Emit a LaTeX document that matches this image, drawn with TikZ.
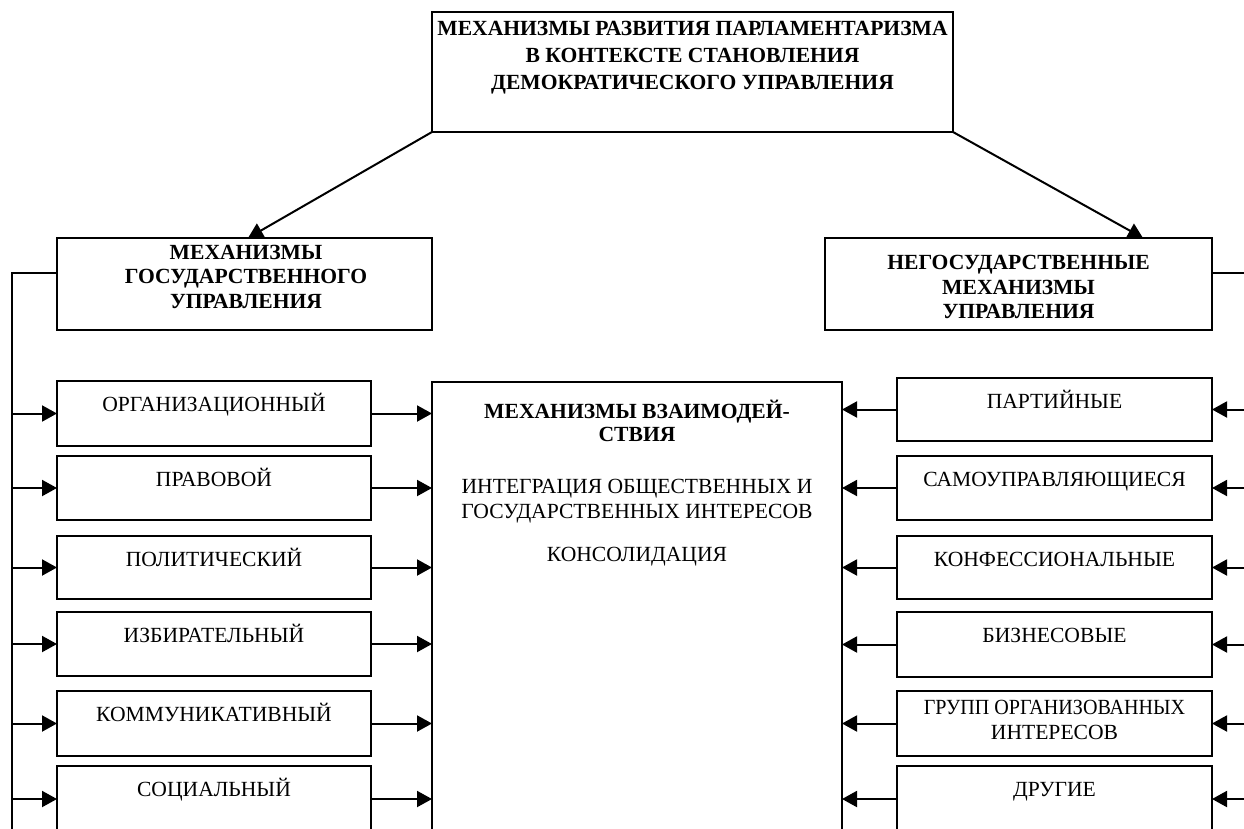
\documentclass[tikz,border=0pt]{standalone}
\usepackage{fontspec}
\usepackage{graphicx}
\setmainfont{Liberation Serif}
\usetikzlibrary{arrows.meta}
\newcommand{\mlines}[1]{\begin{tabular}[t]{@{}c@{}}#1\end{tabular}}
\begin{document}
\begin{tikzpicture}[x=1pt,y=-1pt,
  box/.style={draw, line width=2pt, inner sep=0pt, outer sep=0pt, anchor=north west},
  btxt/.style={font=\bfseries\fontsize{21.6}{24.5}\selectfont, inner sep=0pt, anchor=base},
  ntxt/.style={font=\fontsize{21.6}{25}\selectfont, inner sep=0pt, anchor=base},
  arr/.style={line width=2pt, -{Triangle[length=15pt,width=16pt]}},
  ln/.style={line width=2pt}]
\useasboundingbox (0,0) rectangle (1244,828);
\clip (0,0) rectangle (1244,828);
% main boxes
\node[box, minimum width=521pt, minimum height=120pt] (top) at (432,12) {};
\node[box, minimum width=375pt, minimum height=92pt] (lt) at (57,238) {};
\node[box, minimum width=387pt, minimum height=92pt] (rt) at (825,238) {};
\node[box, minimum width=410pt, minimum height=470pt] (mid) at (432,382) {};
% left column
\node[box, minimum width=314pt, minimum height=65pt] (l1) at (57,381) {};
\node[box, minimum width=314pt, minimum height=64pt] (l2) at (57,456) {};
\node[box, minimum width=314pt, minimum height=63pt] (l3) at (57,536) {};
\node[box, minimum width=314pt, minimum height=64pt] (l4) at (57,612) {};
\node[box, minimum width=314pt, minimum height=65pt] (l5) at (57,691) {};
\node[box, minimum width=314pt, minimum height=66pt] (l6) at (57,766) {};
% right column
\node[box, minimum width=315pt, minimum height=63pt] (r1) at (897,378) {};
\node[box, minimum width=315pt, minimum height=64pt] (r2) at (897,456) {};
\node[box, minimum width=315pt, minimum height=63pt] (r3) at (897,536) {};
\node[box, minimum width=315pt, minimum height=65pt] (r4) at (897,612) {};
\node[box, minimum width=315pt, minimum height=65pt] (r5) at (897,691) {};
\node[box, minimum width=315pt, minimum height=66pt] (r6) at (897,766) {};
% bus coordinates
\coordinate (lbe) at (12,850);
\coordinate (rb) at (1252,0);
% connectors
\draw[arr] (top.south west) -- ([xshift=3.5pt]lt.north);
\draw[arr] (top.south east) -- ([xshift=124.5pt]rt.north);
\draw[ln] ([yshift=11pt]lt.west) -| (lbe);
\draw[ln] ([yshift=11pt]rt.east) -- ([yshift=11pt]rt.east -| rb);
\foreach \i in {1,...,6}{
  \draw[arr] (l\i.west -| lbe) -- (l\i.west);
  \draw[arr] (l\i.east) -- (l\i.east -| mid.west);
  \draw[arr] (r\i.east -| rb) -- (r\i.east);
  \draw[arr] (r\i.west) -- (r\i.west -| mid.east);
}
% texts
\node[btxt, font=\bfseries\fontsize{21.6}{27}\selectfont] (ttop) at (692.5,35)
  {\mlines{МЕХАНИЗМЫ РАЗВИТИЯ ПАРЛАМЕНТАРИЗМА\\В КОНТЕКСТЕ СТАНОВЛЕНИЯ\\ДЕМОКРАТИЧЕСКОГО УПРАВЛЕНИЯ}};
\node[btxt] (tlt) at (246,259) {\mlines{МЕХАНИЗМЫ\\ГОСУДАРСТВЕННОГО\\УПРАВЛЕНИЯ}};
\node[btxt] (trt) at (1018.5,269.5) {\mlines{НЕГОСУДАРСТВЕННЫЕ\\МЕХАНИЗМЫ\\УПРАВЛЕНИЯ}};
\node[btxt, font=\bfseries\fontsize{21.6}{23.5}\selectfont] (tm1) at (637,418) {\mlines{МЕХАНИЗМЫ ВЗАИМОДЕЙ-\\СТВИЯ}};
\node[ntxt] (tm2) at (637,493) {\mlines{ИНТЕГРАЦИЯ ОБЩЕСТВЕННЫХ И\\ГОСУДАРСТВЕННЫХ ИНТЕРЕСОВ}};
\node[ntxt] (tm3) at (637,561) {КОНСОЛИДАЦИЯ};
\foreach \i/\t in {1/ОРГАНИЗАЦИОННЫЙ, 2/ПРАВОВОЙ, 3/ПОЛИТИЧЕСКИЙ, 4/ИЗБИРАТЕЛЬНЫЙ, 5/КОММУНИКАТИВНЫЙ, 6/СОЦИАЛЬНЫЙ}{
  \node[ntxt] (lx\i) at ([yshift=-30pt]l\i.north) {\t};
}
\foreach \i/\t in {1/ПАРТИЙНЫЕ, 2/САМОУПРАВЛЯЮЩИЕСЯ, 3/КОНФЕССИОНАЛЬНЫЕ, 4/БИЗНЕСОВЫЕ, 6/ДРУГИЕ}{
  \node[ntxt] (rx\i) at ([yshift=-30pt]r\i.north) {\t};
}
\node[ntxt] (rx5) at ([yshift=-23pt]r5.north) {\mlines{\scalebox{0.93}[1]{ГРУПП ОРГАНИЗОВАННЫХ}\\ИНТЕРЕСОВ}};
\end{tikzpicture}
\end{document}
